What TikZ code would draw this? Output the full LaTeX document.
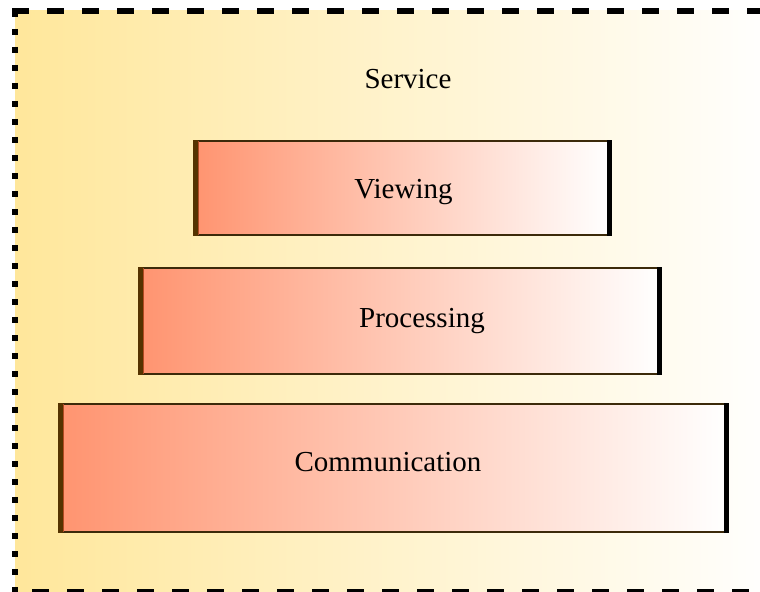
\documentclass[tikz,border=0pt]{standalone}
\usepackage{fontspec}
\setmainfont{Liberation Serif}
\definecolor{bgleft}{HTML}{FFE79B}
\definecolor{boxleft}{HTML}{FF9470}
\definecolor{edgebrown}{HTML}{3C2A0A}
\definecolor{leftbrown}{HTML}{553300}
\definecolor{leftred}{HTML}{B04A22}
\tikzset{
  layer/.style={draw=edgebrown, line width=1.6bp, left color=boxleft, right color=white, inner sep=0pt, rectangle},
  leftedge/.style={draw=leftbrown, line width=4.5bp},
  rightedge/.style={draw=black, line width=5.5bp},
  lbl/.style={anchor=base, inner sep=0pt, font=\fontsize{29bp}{34bp}\selectfont},
  topdash/.style={line width=6bp, dash pattern=on 17bp off 18bp},
  sidedash/.style={line width=6bp, dash pattern=on 6bp off 12bp},
}
\begin{document}
\begin{tikzpicture}[x=1bp, y=-1bp]
\clip (0,0) rectangle (760,592);
\fill[white] (0,0) rectangle (760,592);
% outer area
\shade[left color=bgleft, right color=white] (15,11) rectangle (780,600);
\coordinate (tl) at (12,11);
\coordinate (tr) at (770,11);
\coordinate (ltop) at (15,11);
\coordinate (lbot) at (15,592);
\coordinate (bl) at (32,592);
\coordinate (br) at (770,592);
\draw[topdash] (tl) -- (tr);
\draw[sidedash] (ltop) -- (lbot);
\draw[topdash] (bl) -- (br);
\node[lbl] (service) at (408,89) {Service};
% layers
\node[layer, minimum width=415bp, minimum height=94bp] (view) at (402.5,188) {};
\node[layer, minimum width=520bp, minimum height=106bp] (proc) at (400,321) {};
\node[layer, minimum width=667bp, minimum height=128bp] (comm) at (393.5,468) {};
\foreach \b in {view,proc,comm}{
  \draw[leftedge] ([xshift=1.2bp]\b.north west) -- ([xshift=1.2bp]\b.south west);
  \draw[draw=leftred, line width=1.2bp] ([xshift=4bp,yshift=-1bp]\b.north west) -- ([xshift=4bp,yshift=1bp]\b.south west);
  \draw[rightedge] ([xshift=-1.5bp]\b.north east) -- ([xshift=-1.5bp]\b.south east);
}
\node[lbl] (viewt) at ([xshift=1bp,yshift=-11bp]view.center) {Viewing};
\node[lbl] (proct) at ([xshift=22bp,yshift=-6bp]proc.center) {Processing};
\node[lbl] (commt) at ([xshift=-5.5bp,yshift=-3bp]comm.center) {Communication};
\end{tikzpicture}
\end{document}
